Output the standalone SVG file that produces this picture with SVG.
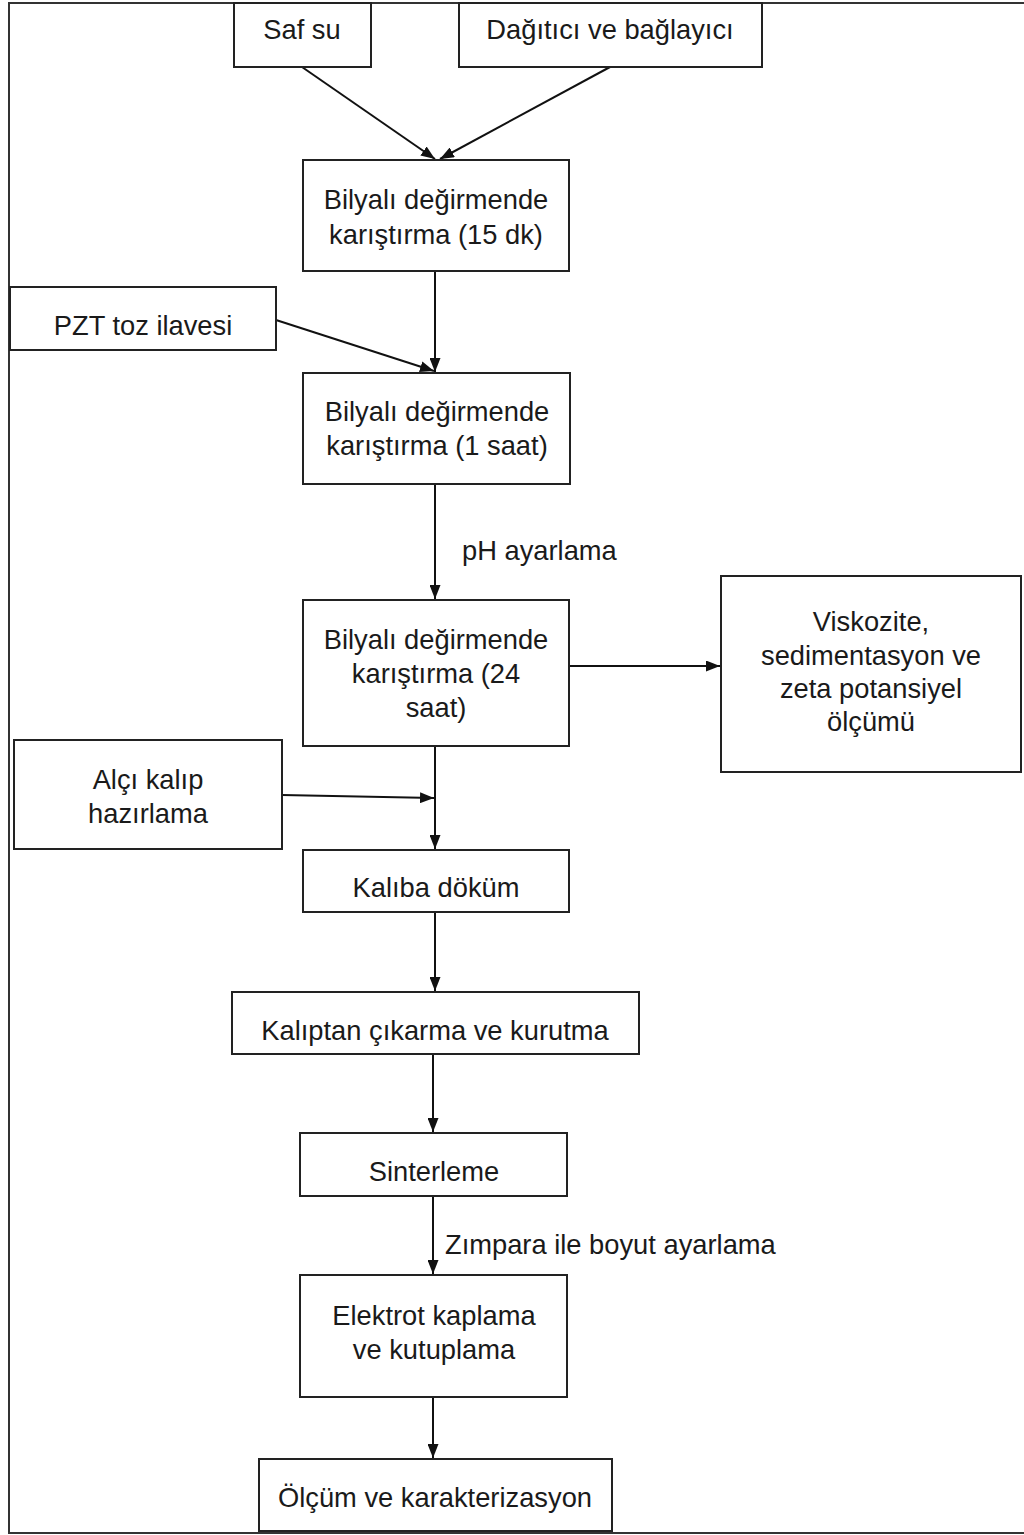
<svg xmlns="http://www.w3.org/2000/svg" width="1024" height="1535" viewBox="0 0 1024 1535">
<defs>
<style>
.box{fill:#fff;stroke:#222;stroke-width:2}
.t{font-family:"Liberation Sans",Arial,sans-serif;font-size:27.3px;fill:#1a1a1a;text-anchor:middle}
.l{font-family:"Liberation Sans",Arial,sans-serif;font-size:27.3px;fill:#1a1a1a}
.c{stroke:#111;stroke-width:2;fill:none;marker-end:url(#ah)}
</style>
<marker id="ah" viewBox="0 0 14 11" refX="14" refY="5.5" markerWidth="14" markerHeight="11" markerUnits="userSpaceOnUse" orient="auto">
<path d="M0,0 L14,5.5 L0,11 Z" fill="#111"/>
</marker>
</defs>
<rect width="1024" height="1535" fill="#fff"/>
<path d="M1024,3 H9 V1533 H1024" fill="none" stroke="#333" stroke-width="2"/>
<g id="connectors">
<line class="c" x1="302" y1="67" x2="435" y2="159"/>
<line class="c" x1="610" y1="67" x2="440" y2="159"/>
<line class="c" x1="435" y1="271" x2="435" y2="372"/>
<line class="c" x1="276" y1="320" x2="434" y2="371"/>
<line class="c" x1="435" y1="484" x2="435" y2="599"/>
<line class="c" x1="569" y1="666" x2="720" y2="666"/>
<line class="c" x1="435" y1="746" x2="435" y2="849"/>
<line class="c" x1="282" y1="795" x2="434" y2="798"/>
<line class="c" x1="435" y1="912" x2="435" y2="991"/>
<line class="c" x1="433" y1="1054" x2="433" y2="1132"/>
<line class="c" x1="433" y1="1196" x2="433" y2="1274"/>
<line class="c" x1="433" y1="1397" x2="433" y2="1458"/>
<text class="l" x="462" y="560">pH ayarlama</text>
<text class="l" x="445" y="1254">Zımpara ile boyut ayarlama</text>
</g>
<g id="n-safsu"><rect class="box" x="234" y="3" width="137" height="64"/><text class="t" x="302" y="39">Saf su</text></g>
<g id="n-dagitici"><rect class="box" x="459" y="3" width="303" height="64"/><text class="t" x="610" y="39">Dağıtıcı ve bağlayıcı</text></g>
<g id="n-mix15"><rect class="box" x="303" y="160" width="266" height="111"/><text class="t" x="436" y="209">Bilyalı değirmende</text><text class="t" x="436" y="244">karıştırma (15 dk)</text></g>
<g id="n-pzt"><rect class="box" x="10" y="287" width="266" height="63"/><text class="t" x="143" y="335">PZT toz ilavesi</text></g>
<g id="n-mix1"><rect class="box" x="303" y="373" width="267" height="111"/><text class="t" x="437" y="421">Bilyalı değirmende</text><text class="t" x="437" y="455">karıştırma (1 saat)</text></g>
<g id="n-mix24"><rect class="box" x="303" y="600" width="266" height="146"/><text class="t" x="436" y="649">Bilyalı değirmende</text><text class="t" x="436" y="683">karıştırma (24</text><text class="t" x="436" y="717">saat)</text></g>
<g id="n-visk"><rect class="box" x="721" y="576" width="300" height="196"/><text class="t" x="871" y="631">Viskozite,</text><text class="t" x="871" y="665">sedimentasyon ve</text><text class="t" x="871" y="698">zeta potansiyel</text><text class="t" x="871" y="731">ölçümü</text></g>
<g id="n-alci"><rect class="box" x="14" y="740" width="268" height="109"/><text class="t" x="148" y="789">Alçı kalıp</text><text class="t" x="148" y="823">hazırlama</text></g>
<g id="n-dokum"><rect class="box" x="303" y="850" width="266" height="62"/><text class="t" x="436" y="897">Kalıba döküm</text></g>
<g id="n-cikarma"><rect class="box" x="232" y="992" width="407" height="62"/><text class="t" x="435" y="1040">Kalıptan çıkarma ve kurutma</text></g>
<g id="n-sinter"><rect class="box" x="300" y="1133" width="267" height="63"/><text class="t" x="434" y="1181">Sinterleme</text></g>
<g id="n-elektrot"><rect class="box" x="300" y="1275" width="267" height="122"/><text class="t" x="434" y="1325">Elektrot kaplama</text><text class="t" x="434" y="1359">ve kutuplama</text></g>
<g id="n-olcum"><rect class="box" x="259" y="1459" width="353" height="72"/><text class="t" x="435" y="1507">Ölçüm ve karakterizasyon</text></g>
</svg>
